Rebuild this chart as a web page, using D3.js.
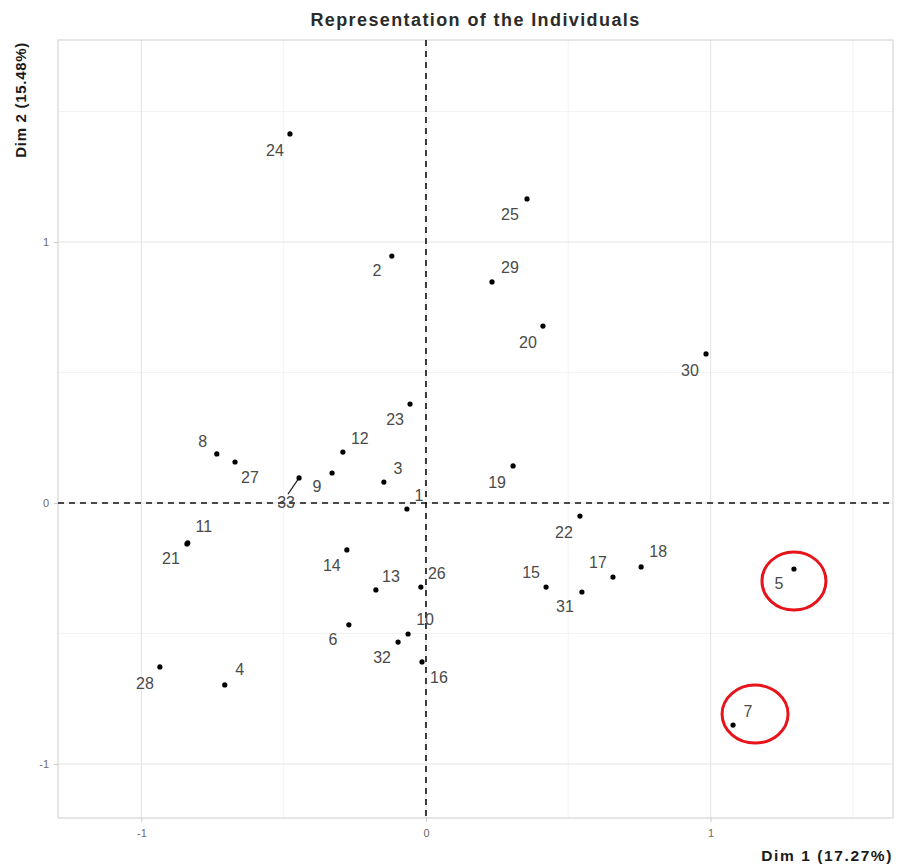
<!DOCTYPE html>
<html>
<head>
<meta charset="utf-8">
<script src="https://cdn.jsdelivr.net/npm/d3@7/dist/d3.min.js"></script>
<style>
  body { margin: 0; background: #fff; }
  svg { display: block; font-family: "Liberation Sans", Arial, sans-serif; }
</style>
</head>
<body>
<svg id="chart" width="898" height="866"></svg>
<script>
// ---- data ----
const labels = ["1","2","3","4","5","6","7","8","9","10","11","12","13","14","15","16","17","18","19","20","21","22","23","24","25","26","27","28","29","30","31","32","33"];
const dim1 = [-0.067,-0.120,-0.148,-0.707,1.293,-0.271,1.079,-0.735,-0.330,-0.063,-0.837,-0.292,-0.176,-0.278,0.422,-0.014,0.657,0.756,0.306,0.411,-0.840,0.541,-0.056,-0.478,0.355,-0.018,-0.671,-0.935,0.232,0.984,0.548,-0.098,-0.446];
const dim2 = [-0.023,0.946,0.080,-0.697,-0.253,-0.467,-0.851,0.188,0.115,-0.502,-0.153,0.195,-0.333,-0.180,-0.322,-0.609,-0.284,-0.245,0.142,0.678,-0.157,-0.050,0.379,1.414,1.165,-0.322,0.157,-0.628,0.847,0.571,-0.341,-0.533,0.096];
const xTicks = [-1, 0, 1];
const yTicks = [-1, 0, 1];
const xMinor = [-0.5, 0.5, 1.5];
const yMinor = [-0.5, 0.5, 1.5];
const highlighted = ["5", "7"];
const title = "Representation of the Individuals";
const xTitle = "Dim 1 (17.27%)";
const yTitle = "Dim 2 (15.48%)";

// ---- layout (label placement offsets in px, as placed by the repel algorithm) ----
const labelOffset = {
  "1":[12,-13],"2":[-15,14],"3":[14,-14],"4":[15,-15],"5":[-15,14],"6":[-16,15],"7":[15,-14],
  "8":[-14,-12],"9":[-15,14],"10":[17,-15],"11":[16,-16],"12":[17,-14],"13":[15,-13],"14":[-15,16],
  "15":[-15,-15],"16":[17,16],"17":[-15,-15],"18":[17,-15],"19":[-16,17],"20":[-15,16],"21":[-16,15],
  "22":[-16,16],"23":[-15,15],"24":[-15,17],"25":[-17,16],"26":[16,-14],"27":[15,15],"28":[-15,17],
  "29":[18,-14],"30":[-16,17],"31":[-17,15],"32":[-16,15],"33":[-13,25]
};
const segmentLabels = ["33"];
const ellipseLayout = { "5": {dx:0, dy:12, rx:32, ry:29}, "7": {dx:22, dy:-11, rx:33, ry:29} };

const data = labels.map((l, i) => ({ label: l, x: dim1[i], y: dim2[i] }));

const svg = d3.select("#chart");
const panel = { left: 58, right: 893, top: 40, bottom: 818 };

const x = d3.scaleLinear().domain([-1.293, 1.641]).range([panel.left, panel.right]);
const y = d3.scaleLinear().domain([-1.207, 1.774]).range([panel.bottom, panel.top]);

// background
svg.append("rect").attr("x", panel.left).attr("y", panel.top)
  .attr("width", panel.right - panel.left).attr("height", panel.bottom - panel.top)
  .attr("fill", "#fff");

// minor grid
const g = svg.append("g");
g.selectAll(".xminor").data(xMinor).join("line")
  .attr("x1", d => x(d)).attr("x2", d => x(d)).attr("y1", panel.top).attr("y2", panel.bottom)
  .attr("stroke", "#f0f0f0").attr("stroke-width", 0.8);
g.selectAll(".yminor").data(yMinor).join("line")
  .attr("y1", d => y(d)).attr("y2", d => y(d)).attr("x1", panel.left).attr("x2", panel.right)
  .attr("stroke", "#f0f0f0").attr("stroke-width", 0.8);
// major grid
g.selectAll(".xmajor").data(xTicks).join("line")
  .attr("x1", d => x(d)).attr("x2", d => x(d)).attr("y1", panel.top).attr("y2", panel.bottom)
  .attr("stroke", "#e6e6e6").attr("stroke-width", 1.2);
g.selectAll(".ymajor").data(yTicks).join("line")
  .attr("y1", d => y(d)).attr("y2", d => y(d)).attr("x1", panel.left).attr("x2", panel.right)
  .attr("stroke", "#e6e6e6").attr("stroke-width", 1.2);

// panel border
svg.append("rect").attr("x", panel.left).attr("y", panel.top)
  .attr("width", panel.right - panel.left).attr("height", panel.bottom - panel.top)
  .attr("fill", "none").attr("stroke", "#d6d6d6").attr("stroke-width", 1.2);

// axes
const fmt = d => String(d).replace("\u2212", "-");
const xAxis = d3.axisBottom(x).tickValues(xTicks).tickSize(4).tickPadding(5).tickFormat(fmt);
const yAxis = d3.axisLeft(y).tickValues(yTicks).tickSize(4).tickPadding(5).tickFormat(fmt);
const gx = svg.append("g").attr("transform", `translate(0,${panel.bottom})`).call(xAxis);
const gy = svg.append("g").attr("transform", `translate(${panel.left},0)`).call(yAxis);
[gx, gy].forEach(a => {
  a.select(".domain").remove();
  a.selectAll(".tick line").attr("stroke", "#cccccc");
  a.selectAll(".tick text").attr("fill", "#6b6b6b").attr("font-size", 11)
    .attr("font-family", "'Liberation Sans', Arial, sans-serif");
});
gx.selectAll(".tick text").attr("dy", "0.9em");

// zero lines
svg.append("line").attr("x1", panel.left).attr("x2", panel.right).attr("y1", y(0)).attr("y2", y(0))
  .attr("stroke", "#111").attr("stroke-width", 1.6).attr("stroke-dasharray", "6,5");
svg.append("line").attr("y1", panel.top).attr("y2", panel.bottom).attr("x1", x(0)).attr("x2", x(0))
  .attr("stroke", "#111").attr("stroke-width", 1.6).attr("stroke-dasharray", "6,5");

// segments
svg.selectAll(".seg").data(data.filter(d => segmentLabels.includes(d.label))).join("line")
  .attr("x1", d => x(d.x)).attr("y1", d => y(d.y))
  .attr("x2", d => x(d.x) + labelOffset[d.label][0] * 0.85).attr("y2", d => y(d.y) + labelOffset[d.label][1] * 0.65)
  .attr("stroke", "#222").attr("stroke-width", 1.2);

// points
svg.selectAll(".pt").data(data).join("circle")
  .attr("cx", d => x(d.x)).attr("cy", d => y(d.y)).attr("r", 2.6).attr("fill", "#000");

// labels
svg.selectAll(".lbl").data(data).join("text")
  .attr("x", d => x(d.x) + labelOffset[d.label][0])
  .attr("y", d => y(d.y) + labelOffset[d.label][1])
  .attr("text-anchor", "middle").attr("dominant-baseline", "central")
  .attr("font-size", 16).attr("fill", "#4a4a4a")
  .text(d => d.label);

// highlight ellipses
svg.selectAll(".hl").data(data.filter(d => highlighted.includes(d.label))).join("ellipse")
  .attr("cx", d => x(d.x) + ellipseLayout[d.label].dx)
  .attr("cy", d => y(d.y) + ellipseLayout[d.label].dy)
  .attr("rx", d => ellipseLayout[d.label].rx).attr("ry", d => ellipseLayout[d.label].ry)
  .attr("fill", "none").attr("stroke", "#e8141b").attr("stroke-width", 3);

// titles
svg.append("text").attr("x", (panel.left + panel.right) / 2).attr("y", 20)
  .attr("text-anchor", "middle").attr("dominant-baseline", "central")
  .attr("font-size", 18).attr("font-weight", "bold").attr("fill", "#2b2b2b")
  .attr("letter-spacing", 1.4).text(title);
svg.append("text").attr("x", panel.right).attr("y", 855)
  .attr("text-anchor", "end").attr("dominant-baseline", "central")
  .attr("font-size", 15.5).attr("font-weight", "bold").attr("fill", "#1a1a1a")
  .attr("letter-spacing", 1.6).text(xTitle);
svg.append("text").attr("transform", `translate(20,${panel.top + 2}) rotate(-90)`)
  .attr("text-anchor", "end").attr("dominant-baseline", "central")
  .attr("font-size", 15).attr("font-weight", "bold").attr("fill", "#1a1a1a")
  .attr("letter-spacing", 0.7).text(yTitle);
</script>
</body>
</html>
